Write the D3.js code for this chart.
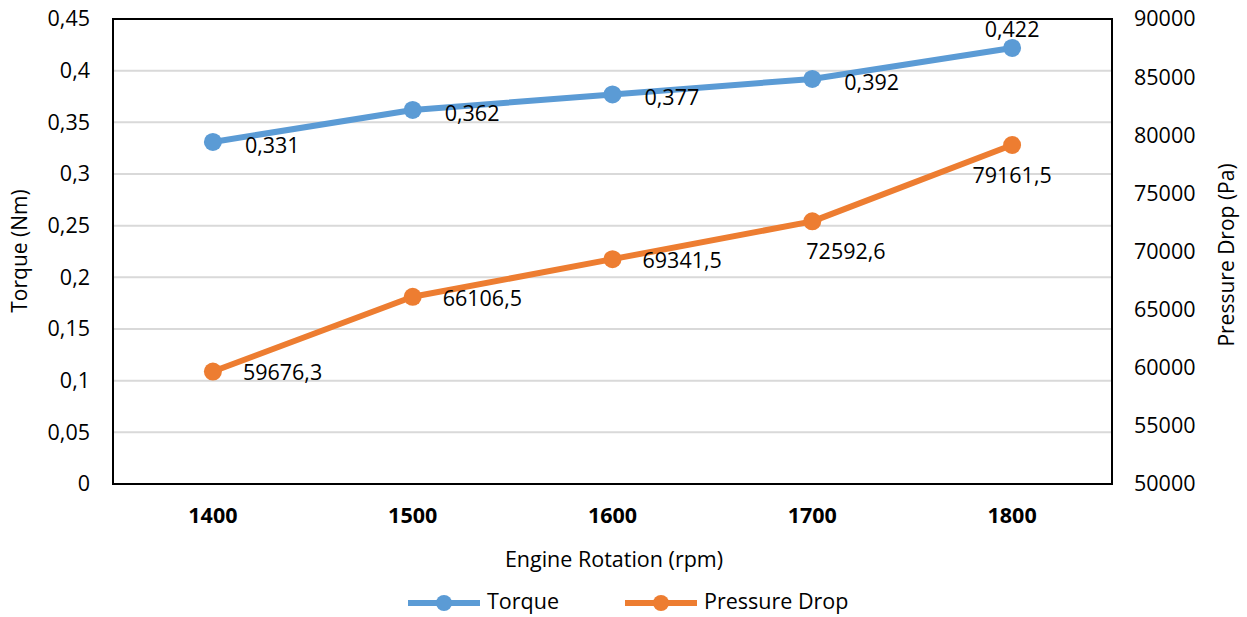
<!DOCTYPE html>
<html><head><meta charset="utf-8">
<script src="https://cdn.jsdelivr.net/npm/d3@7"></script>
<style>body{margin:0;background:#fff}svg{display:block}text{font-family:"Open Sans",sans-serif;fill:#000}</style>
</head><body><svg id="c" width="1247" height="617"></svg>
<script>
const categories = ["1400","1500","1600","1700","1800"];
const torque = [0.331,0.362,0.377,0.392,0.422];
const pressure = [59676.3,66106.5,69341.5,72592.6,79161.5];
const leftTicks = [0,0.05,0.1,0.15,0.2,0.25,0.3,0.35,0.4,0.45];
const rightTicks = [50000,55000,60000,65000,70000,75000,80000,85000,90000];

const svg = d3.select("#c");
const L=113,R=1112,T=19,B=484;
const x = d3.scaleBand().domain(categories).range([L,R]);
const yL = d3.scaleLinear().domain([0,0.45]).range([B,T]);
const yR = d3.scaleLinear().domain([50000,90000]).range([B,T]);
const fmt = v => String(v).replace(".",",");
const cx = c => x(c)+x.bandwidth()/2;
const FS = "21.5px";

// grid
svg.append("g").selectAll("line").data(leftTicks.slice(1,-1)).join("line")
  .attr("x1",L).attr("x2",R).attr("y1",d=>yL(d)).attr("y2",d=>yL(d))
  .attr("stroke","#d9d9d9").attr("stroke-width",2);
// frame
svg.append("rect").attr("x",L).attr("y",T).attr("width",R-L).attr("height",B-T)
  .attr("fill","none").attr("stroke","#000").attr("stroke-width",2);

// left axis
const gl = svg.append("g").attr("transform",`translate(${L},0)`)
  .call(d3.axisLeft(yL).tickValues(leftTicks).tickFormat(fmt).tickSize(0).tickPadding(23));
gl.select(".domain").remove();
gl.selectAll("text").style("font-size",FS);
// right axis
const gr = svg.append("g").attr("transform",`translate(${R},0)`)
  .call(d3.axisRight(yR).tickValues(rightTicks).tickFormat(d=>String(d)).tickSize(0).tickPadding(22));
gr.select(".domain").remove();
gr.selectAll("text").style("font-size",FS);
// bottom axis
const gb = svg.append("g").attr("transform",`translate(0,${B})`)
  .call(d3.axisBottom(x).tickSize(0).tickPadding(24));
gb.select(".domain").remove();
gb.selectAll("text").style("font-size",FS).style("font-weight","bold");

// titles
svg.append("text").attr("transform","translate(27,251) rotate(-90)").attr("text-anchor","middle")
  .style("font-size","21px").text("Torque (Nm)");
svg.append("text").attr("transform","translate(1234,255) rotate(-90)").attr("text-anchor","middle")
  .style("font-size","21px").text("Pressure Drop (Pa)");
svg.append("text").attr("x",614).attr("y",567).attr("text-anchor","middle")
  .style("font-size","21.5px").text("Engine Rotation (rpm)");

function series(vals, y, color){
  const line = d3.line().x((d,i)=>cx(categories[i])).y(d=>y(d));
  svg.append("path").datum(vals).attr("d",line).attr("fill","none")
    .attr("stroke",color).attr("stroke-width",6).attr("stroke-linejoin","round");
  svg.append("g").selectAll("circle").data(vals).join("circle")
    .attr("cx",(d,i)=>cx(categories[i])).attr("cy",d=>y(d)).attr("r",9).attr("fill",color);
}
series(torque,yL,"#5B9BD5");
series(pressure,yR,"#ED7D31");

// data labels
const tPos = ["r","r","r","r","t"];
svg.append("g").selectAll("text").data(torque).join("text")
  .attr("x",(d,i)=>tPos[i]==="r"?cx(categories[i])+32:cx(categories[i]))
  .attr("y",(d,i)=>tPos[i]==="r"?yL(d)+5:yL(d)-11)
  .attr("text-anchor",(d,i)=>tPos[i]==="r"?"start":"middle")
  .attr("dominant-baseline",(d,i)=>tPos[i]==="r"?"middle":"auto")
  .style("font-size",FS).text(fmt);
const pPos = ["r","r","r","br","b"];
svg.append("g").selectAll("text").data(pressure).join("text")
  .attr("x",(d,i)=>pPos[i]==="r"?cx(categories[i])+30:pPos[i]==="br"?cx(categories[i])-6:cx(categories[i]))
  .attr("y",(d,i)=>pPos[i]==="r"?yR(d)+3:yR(d)+32)
  .attr("text-anchor",(d,i)=>pPos[i]==="b"?"middle":"start")
  .attr("dominant-baseline","middle")
  .style("font-size",FS).text(fmt);

// legend
const legend = [["Torque","#5B9BD5",408],["Pressure Drop","#ED7D31",625]];
legend.forEach(([name,color,lx])=>{
  const g = svg.append("g");
  g.append("line").attr("x1",lx).attr("x2",lx+72).attr("y1",603).attr("y2",603)
    .attr("stroke",color).attr("stroke-width",6);
  g.append("circle").attr("cx",lx+36).attr("cy",603).attr("r",8).attr("fill",color);
  g.append("text").attr("x",lx+79).attr("y",603).attr("dominant-baseline","middle")
    .style("font-size","21.5px").text(name);
});
</script></body></html>
